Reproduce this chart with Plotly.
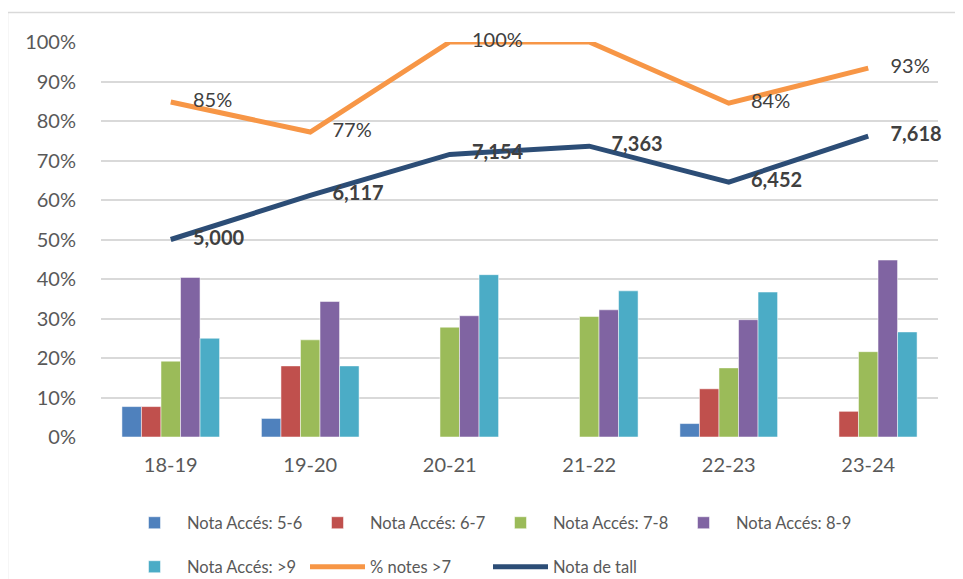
import plotly.graph_objects as go

categories = ["18-19", "19-20", "20-21", "21-22", "22-23", "23-24"]

nota_5_6 = [0.077, 0.047, 0.0, 0.0, 0.034, 0.0]
nota_6_7 = [0.077, 0.180, 0.0, 0.0, 0.122, 0.065]
nota_7_8 = [0.192, 0.246, 0.278, 0.305, 0.175, 0.216]
nota_8_9 = [0.404, 0.343, 0.307, 0.322, 0.297, 0.448]
nota_9 = [0.250, 0.180, 0.411, 0.370, 0.367, 0.266]

pct_notes_7 = [0.848, 0.772, 1.0, 1.0, 0.845, 0.934]
pct_labels = ["85%", "77%", "100%", "", "84%", "93%"]

nota_tall = [5.000, 6.117, 7.154, 7.363, 6.452, 7.618]

bar_names = ["Nota Accés: 5-6", "Nota Accés: 6-7", "Nota Accés: 7-8", "Nota Accés: 8-9", "Nota Accés: >9"]
bar_series = [nota_5_6, nota_6_7, nota_7_8, nota_8_9, nota_9]
bar_colors = ["#4F81BD", "#C0504D", "#9BBB59", "#8064A2", "#4BACC6"]

FONT = "Lato, 'Open Sans', sans-serif"
TXT = "#404040"

fig = go.Figure()
for i, (name, vals, col) in enumerate(zip(bar_names, bar_series, bar_colors)):
    fig.add_trace(go.Bar(
        x=categories, y=vals, name=name,
        marker=dict(color=col, line=dict(color="rgba(255,255,255,0.5)", width=1)),
        legend="legend" if i < 4 else "legend2",
    ))

fig.add_trace(go.Scatter(
    x=categories, y=pct_notes_7, name="% notes >7",
    mode="lines+markers+text",
    line=dict(color="#F79646", width=5),
    marker=dict(size=34, color="rgba(0,0,0,0)"),
    text=pct_labels, textposition="middle right",
    textfont=dict(family=FONT, size=20, color=TXT),
    cliponaxis=False, legend="legend2",
))

fig.add_trace(go.Scatter(
    x=categories, y=[v / 10 for v in nota_tall], name="Nota de tall",
    mode="lines+markers+text",
    line=dict(color="#2C4D76", width=5),
    marker=dict(size=34, color="rgba(0,0,0,0)"),
    text=[f"{v:.3f}".replace(".", ",") for v in nota_tall], textposition="middle right",
    textfont=dict(family=FONT, size=20, color=TXT, weight="bold"),
    cliponaxis=False, legend="legend2",
))

# page is rendered with an 8px body margin; work in page pixels and subtract it
OFF = 8
W, H = 963 - OFF, 579 - OFF
L = 101 - OFF
T = 42 - OFF
R = W - (938 - OFF)
B = H - (437 - OFF)
pw, ph = W - L - R, H - T - B

def px(x):
    return ((x - OFF) - L) / pw

def py(y):
    return (H - B - (y - OFF)) / ph

def cx(x):
    return (x - OFF) / W

def cy(y):
    return 1 - (y - OFF) / H

leg_common = dict(orientation="h", xref="container", yref="container", xanchor="left", yanchor="middle",
                  itemwidth=55, entrywidth=113, entrywidthmode="pixels",
                  font=dict(size=16.5, color="#595959"), bgcolor="rgba(0,0,0,0)", traceorder="normal")

fig.update_layout(
    width=W, height=H,
    margin=dict(l=L, r=R, t=T, b=B, autoexpand=False),
    paper_bgcolor="white", plot_bgcolor="white",
    barmode="group", bargap=0.30, bargroupgap=0.0,
    font=dict(family=FONT, size=20, color="#595959"),
    showlegend=True,
    legend=dict(x=cx(122), y=cy(523), **leg_common),
    legend2=dict(x=cx(122), y=cy(567), **leg_common),
    shapes=[dict(type="rect", xref="paper", yref="paper",
                 x0=px(7.5), x1=px(975), y0=py(600), y1=py(12.5),
                 line=dict(color="#D9D9D9", width=1.5), fillcolor="rgba(0,0,0,0)", layer="below")],
)

fig.update_xaxes(showgrid=False, zeroline=False, showline=False, ticks="",
                 tickfont=dict(size=20, color="#595959"), ticklabelstandoff=14)
fig.update_yaxes(range=[0, 1.0], tick0=0, dtick=0.1, tickformat=".0%",
                 showgrid=True, gridcolor="#D9D9D9", gridwidth=1.5,
                 zeroline=False, showline=False, ticks="",
                 tickfont=dict(size=20, color="#595959"), ticklabelstandoff=24)

fig.write_html("out.html")
